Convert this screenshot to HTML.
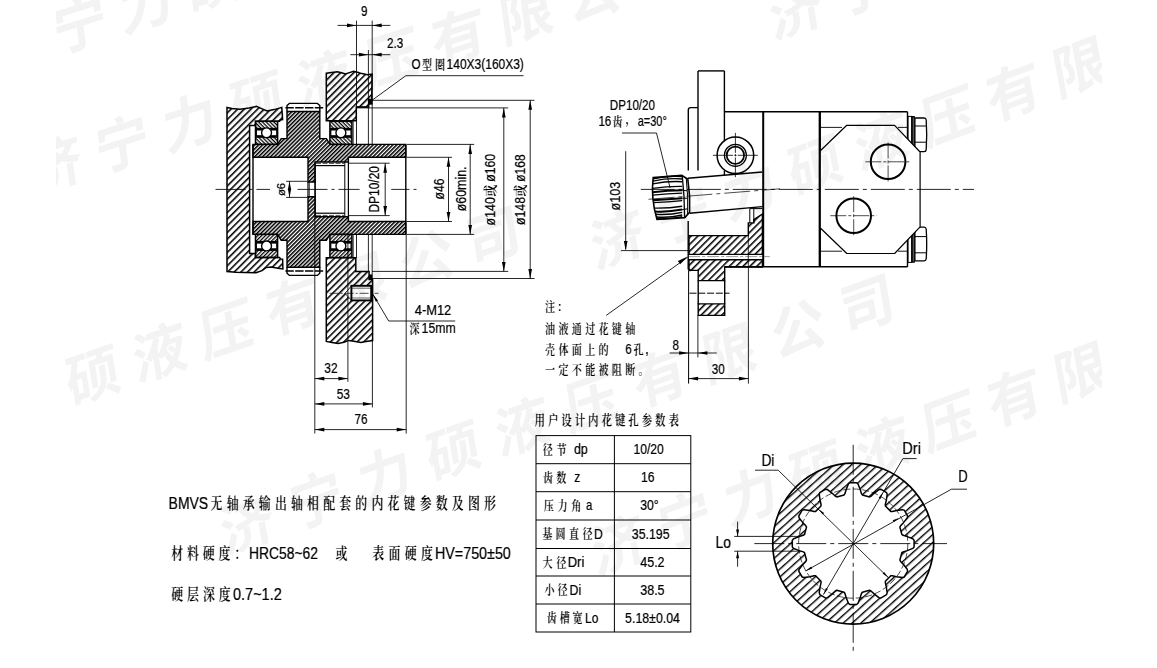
<!DOCTYPE html>
<html lang="zh-CN">
<head>
<meta charset="utf-8">
<title>BMVS无轴承输出轴相配套的内花键参数及图形</title>
<style>
html,body{margin:0;padding:0;background:#fff;}
body{width:1157px;height:668px;overflow:hidden;position:relative;}
svg{position:absolute;left:0;top:0;display:block;filter:grayscale(1);}
text{stroke:none;fill:#000;}
.l{font-family:"Liberation Sans",sans-serif;stroke:#000;stroke-width:.2px;}
.c{font-family:"Liberation Sans","Noto Serif CJK SC",serif;font-weight:600;}
.wm{font-family:"Liberation Sans","Noto Sans CJK SC",sans-serif;font-weight:700;fill:#f3f3f3;}
</style>
</head>
<body>
<svg width="1157" height="668" viewBox="0 0 1157 668" stroke="#000" fill="none">
<defs>
<pattern id="hA" width="4.7" height="4.7" patternUnits="userSpaceOnUse" patternTransform="rotate(-45)"><rect x="0" y="0" width="4.7" height="1.55" fill="#000" stroke="none"/></pattern>
<pattern id="hB" width="2.79" height="2.79" patternUnits="userSpaceOnUse" patternTransform="rotate(-45)"><rect x="0" y="0" width="2.79" height="1.55" fill="#000" stroke="none"/></pattern>
<pattern id="hC" width="2.7" height="2.7" patternUnits="userSpaceOnUse" patternTransform="rotate(45)"><rect x="0" y="0" width="2.7" height="1.25" fill="#000" stroke="none"/></pattern>
<pattern id="hC2" width="2.7" height="2.7" patternUnits="userSpaceOnUse" patternTransform="rotate(-45)"><rect x="0" y="0" width="2.7" height="1.25" fill="#000" stroke="none"/></pattern>
<pattern id="hD" width="5.9" height="5.9" patternUnits="userSpaceOnUse" patternTransform="rotate(-42)"><rect x="0" y="0" width="5.9" height="1.4" fill="#000" stroke="none"/></pattern>
<pattern id="hE" width="4.85" height="4.85" patternUnits="userSpaceOnUse" patternTransform="rotate(-45)"><rect x="0" y="0" width="4.85" height="1.55" fill="#000" stroke="none"/></pattern>
</defs>
<rect x="0" y="0" width="1157" height="668" fill="#fff" stroke="none"/>

<g id="left-assembly">
<path d="M227 107.5 L232 108.6 L240 109.2 L249 108 L256.5 106.4 L261 108.4 L267 111 L274 109.6 L281.8 107.4 L282.6 119.6 L280.4 119.9 L279.6 121.3 L255.5 121.3 L255.5 125.4 L249.6 125.4 L249.6 253.4 L255.5 253.4 L255.5 257.5 L279.6 257.5 L280.4 258.9 L282.6 259.2 L282.9 268.9 L278 268.2 L271 267 L266 267.6 L262 270.6 L256 272.8 L245 272.4 L236 272.2 L227 271.6 Z" fill="url(#hA)" stroke="none"/>
<path d="M227 107.5 L232 108.6 L240 109.2 L249 108 L256.5 106.4 L261 108.4 L267 111 L274 109.6 L281.8 107.4 L282.6 119.6 L280.4 119.9 L279.6 121.3 L255.5 121.3 L255.5 125.4 L249.6 125.4 L249.6 253.4 L255.5 253.4 L255.5 257.5 L279.6 257.5 L280.4 258.9 L282.6 259.2 L282.9 268.9 L278 268.2 L271 267 L266 267.6 L262 270.6 L256 272.8 L245 272.4 L236 272.2 L227 271.6 Z" fill="none" stroke-width="1.5" stroke-linejoin="miter"/>
<path d="M326.3 73.2 L331.5 72.4 L337.4 71.7 L341.5 72.8 L345.4 74 L349.5 72.6 L353.5 71.3 L357.5 72.2 L362 73.6 L367.3 74.7 L372.1 74 L371.8 99.6 L368.7 99.6 L368.7 107.1 L356.3 107.1 L356.3 120.8 L326.3 120.8 Z" fill="url(#hA)" stroke="none"/>
<path d="M326.3 73.2 L331.5 72.4 L337.4 71.7 L341.5 72.8 L345.4 74 L349.5 72.6 L353.5 71.3 L357.5 72.2 L362 73.6 L367.3 74.7 L372.1 74 L371.8 99.6 L368.7 99.6 L368.7 107.1 L356.3 107.1 L356.3 120.8 L326.3 120.8 Z" fill="none" stroke-width="1.5" stroke-linejoin="miter"/>
<rect x="368.7" y="99.8" width="3.5" height="4.6" fill="#000" stroke-width="0.5" />
<path d="M326.3 257.8 L355.8 257.8 L355.8 271.6 L369.1 271.6 L369.1 279.6 L372.6 279.6 L372.6 340.6 L366 341.4 L360.8 342.4 L354 341.2 L348.7 340.4 L344 342.2 L338 343.4 L332 342.4 L326.3 341.4 Z M351.4 285.8 L371.2 285.8 L371.2 300.4 L351.4 300.4 L345 293.3 Z" fill="url(#hA)" fill-rule="evenodd" stroke="none"/>
<path d="M326.3 257.8 L355.8 257.8 L355.8 271.6 L369.1 271.6 L369.1 279.6 L372.6 279.6 L372.6 340.6 L366 341.4 L360.8 342.4 L354 341.2 L348.7 340.4 L344 342.2 L338 343.4 L332 342.4 L326.3 341.4 Z" fill="none" stroke-width="1.5" />
<rect x="369.1" y="274.8" width="3.3" height="4.8" fill="#000" stroke-width="0.5" />
<rect x="351.4" y="285.8" width="19.8" height="14.6" fill="none" stroke-width="1.9" />
<line x1="351.4" y1="288.2" x2="371.2" y2="288.2" stroke-width="0.6" />
<line x1="351.4" y1="298" x2="371.2" y2="298" stroke-width="0.6" />
<path d="M351.4 286 L345 293.3 L351.4 300.2" fill="none" stroke-width="0.8" />
<line x1="329.6" y1="293.3" x2="378.5" y2="293.3" stroke-width="0.7" stroke-dasharray="9 2 2 2"/>
<path d="M253 144.4 L277.6 144.4 L281.2 138.6 L287 138.6 L287 111.5 L319.8 111.5 L319.8 138.6 L326.4 138.6 L329.9 144.4 L405.8 144.4 L405.8 157.3 L348.4 157.3 L348.4 162 L315.1 162 L315.1 182 L308 182 L308 157.3 L253 157.3 Z" fill="url(#hB)" stroke="none"/>
<path d="M253 144.4 L277.6 144.4 L281.2 138.6 L287 138.6 L287 111.5 L319.8 111.5 L319.8 138.6 L326.4 138.6 L329.9 144.4 L405.8 144.4 L405.8 157.3 L348.4 157.3 L348.4 162 L315.1 162 L315.1 182 L308 182 L308 157.3 L253 157.3 Z" fill="none" stroke-width="1.4" stroke-linejoin="miter"/>
<path d="M253 234.4 L277.6 234.4 L281.2 240.2 L287 240.2 L287 267.3 L319.8 267.3 L319.8 240.2 L326.4 240.2 L329.9 234.4 L405.8 234.4 L405.8 221.5 L348.4 221.5 L348.4 216.8 L315.1 216.8 L315.1 196.8 L308 196.8 L308 221.5 L253 221.5 Z" fill="url(#hB)" stroke="none"/>
<path d="M253 234.4 L277.6 234.4 L281.2 240.2 L287 240.2 L287 267.3 L319.8 267.3 L319.8 240.2 L326.4 240.2 L329.9 234.4 L405.8 234.4 L405.8 221.5 L348.4 221.5 L348.4 216.8 L315.1 216.8 L315.1 196.8 L308 196.8 L308 221.5 L253 221.5 Z" fill="none" stroke-width="1.4" stroke-linejoin="miter"/>
<path d="M287 111.5 L287 105.6 L289.4 103.4 L317.4 103.4 L319.8 105.6 L319.8 111.5" fill="none" stroke-width="1.4" />
<line x1="285.4" y1="107.7" x2="324.3" y2="107.7" stroke-width="1.5" stroke-dasharray="8.4 1.4"/>
<line x1="315.1" y1="165.6" x2="344.8" y2="165.6" stroke-width="1.2" />
<line x1="316" y1="163.4" x2="344" y2="163.4" stroke-width="0.7" stroke-dasharray="5 1.5"/>
<path d="M287 267.3 L287 273.2 L289.4 275.4 L317.4 275.4 L319.8 273.2 L319.8 267.3" fill="none" stroke-width="1.4" />
<line x1="285.4" y1="271.1" x2="324.3" y2="271.1" stroke-width="1.5" stroke-dasharray="8.4 1.4"/>
<line x1="315.1" y1="213.2" x2="344.8" y2="213.2" stroke-width="1.2" />
<line x1="316" y1="215.4" x2="344" y2="215.4" stroke-width="0.7" stroke-dasharray="5 1.5"/>
<line x1="253" y1="144.4" x2="253" y2="234.4" stroke-width="1.4" />
<line x1="315.1" y1="162" x2="315.1" y2="216.8" stroke-width="1.2" />
<line x1="344.8" y1="162" x2="344.8" y2="216.8" stroke-width="1.0" />
<line x1="348.4" y1="157.3" x2="348.4" y2="221.5" stroke-width="1.2" />
<line x1="405.8" y1="144.4" x2="405.8" y2="234.4" stroke-width="1.4" />
<line x1="308" y1="182" x2="308" y2="196.8" stroke-width="1.2" />
<line x1="315.1" y1="182" x2="315.1" y2="196.8" stroke-width="1.2" />
<line x1="309.4" y1="182" x2="309.4" y2="196.8" stroke-width="0.7" />
<rect x="255.5" y="121.3" width="22.1" height="7.2" fill="url(#hC)" stroke="none"/>
<rect x="255.5" y="137.2" width="22.1" height="7.2" fill="url(#hC)" stroke="none"/>
<rect x="255.5" y="121.3" width="22.1" height="23.1" fill="none" stroke-width="1.5" />
<line x1="255.5" y1="128.5" x2="277.6" y2="128.5" stroke-width="1.3" />
<line x1="255.5" y1="137.2" x2="277.6" y2="137.2" stroke-width="1.3" />
<rect x="256.3" y="129.65" width="20.5" height="6.4" fill="#fff" stroke-width="1.3" />
<line x1="256.7" y1="129.5" x2="276.4" y2="129.5" stroke-width="1.6" />
<line x1="256.7" y1="136.2" x2="276.4" y2="136.2" stroke-width="1.6" />
<circle cx="266.55" cy="132.85" r="4.95" fill="#fff" stroke-width="1.4" />
<rect x="329.9" y="121.3" width="22" height="7.2" fill="url(#hC)" stroke="none"/>
<rect x="329.9" y="137.2" width="22" height="7.2" fill="url(#hC)" stroke="none"/>
<rect x="329.9" y="121.3" width="22" height="23.1" fill="none" stroke-width="1.5" />
<line x1="329.9" y1="128.5" x2="351.9" y2="128.5" stroke-width="1.3" />
<line x1="329.9" y1="137.2" x2="351.9" y2="137.2" stroke-width="1.3" />
<rect x="330.7" y="129.65" width="20.4" height="6.4" fill="#fff" stroke-width="1.3" />
<line x1="331.1" y1="129.5" x2="350.7" y2="129.5" stroke-width="1.6" />
<line x1="331.1" y1="136.2" x2="350.7" y2="136.2" stroke-width="1.6" />
<circle cx="340.9" cy="132.85" r="4.95" fill="#fff" stroke-width="1.4" />
<rect x="255.5" y="234.4" width="22.1" height="7.2" fill="url(#hC2)" stroke="none"/>
<rect x="255.5" y="250.3" width="22.1" height="7.2" fill="url(#hC2)" stroke="none"/>
<rect x="255.5" y="234.4" width="22.1" height="23.1" fill="none" stroke-width="1.5" />
<line x1="255.5" y1="241.6" x2="277.6" y2="241.6" stroke-width="1.3" />
<line x1="255.5" y1="250.3" x2="277.6" y2="250.3" stroke-width="1.3" />
<rect x="256.3" y="242.75" width="20.5" height="6.4" fill="#fff" stroke-width="1.3" />
<line x1="256.7" y1="242.6" x2="276.4" y2="242.6" stroke-width="1.6" />
<line x1="256.7" y1="249.3" x2="276.4" y2="249.3" stroke-width="1.6" />
<circle cx="266.55" cy="245.95" r="4.95" fill="#fff" stroke-width="1.4" />
<rect x="329.9" y="234.4" width="22" height="7.2" fill="url(#hC2)" stroke="none"/>
<rect x="329.9" y="250.3" width="22" height="7.2" fill="url(#hC2)" stroke="none"/>
<rect x="329.9" y="234.4" width="22" height="23.1" fill="none" stroke-width="1.5" />
<line x1="329.9" y1="241.6" x2="351.9" y2="241.6" stroke-width="1.3" />
<line x1="329.9" y1="250.3" x2="351.9" y2="250.3" stroke-width="1.3" />
<rect x="330.7" y="242.75" width="20.4" height="6.4" fill="#fff" stroke-width="1.3" />
<line x1="331.1" y1="242.6" x2="350.7" y2="242.6" stroke-width="1.6" />
<line x1="331.1" y1="249.3" x2="350.7" y2="249.3" stroke-width="1.6" />
<circle cx="340.9" cy="245.95" r="4.95" fill="#fff" stroke-width="1.4" />
<line x1="353.2" y1="120.8" x2="353.2" y2="144.4" stroke-width="0.8" />
<line x1="353.2" y1="234.4" x2="353.2" y2="258" stroke-width="0.8" />
<line x1="356.5" y1="20.6" x2="356.5" y2="144.4" stroke-width="0.85" />
<line x1="368.4" y1="50" x2="368.4" y2="144.4" stroke-width="0.85" />
<line x1="372.2" y1="20.6" x2="372.2" y2="144.4" stroke-width="0.85" />
<line x1="356.5" y1="234.4" x2="356.5" y2="258" stroke-width="0.85" />
<line x1="368.4" y1="234.4" x2="368.4" y2="271.7" stroke-width="0.85" />
<line x1="372.2" y1="234.4" x2="372.2" y2="274.8" stroke-width="0.85" />
<line x1="356.3" y1="107.1" x2="368.7" y2="107.1" stroke-width="1.0" />
<line x1="215.5" y1="189.4" x2="418.5" y2="189.4" stroke-width="0.85" stroke-dasharray="30 4 3 4"/>
<line x1="337.6" y1="25.4" x2="390.3" y2="25.4" stroke-width="0.85" />
<polygon points="356.5,25.4 347,27.25 347,23.55" fill="#000" stroke="none"/>
<polygon points="372.2,25.4 381.7,23.55 381.7,27.25" fill="#000" stroke="none"/>
<text transform="translate(364.3,15.9) scale(0.82,1)" font-size="14.2" text-anchor="middle" class="l">9</text>
<line x1="350.4" y1="54.7" x2="390.3" y2="54.7" stroke-width="0.85" />
<polygon points="368.4,54.7 358.9,56.55 358.9,52.85" fill="#000" stroke="none"/>
<polygon points="372.2,54.7 381.7,52.85 381.7,56.55" fill="#000" stroke="none"/>
<text transform="translate(395.2,48.2) scale(0.82,1)" font-size="14.2" text-anchor="middle" class="l">2.3</text>
<path d="M372 100.3 L405.8 75.7 L523.5 75.7" fill="none" stroke-width="0.85" />
<text transform="translate(411.4,68.8) scale(0.82,1)" font-size="14.2" text-anchor="start" class="l">O</text>
<text transform="translate(422,68.6) scale(0.77,1)" x="0 16.75" font-size="13.0" class="c">型圈</text>
<text transform="translate(446.6,68.8) scale(0.845,1)" font-size="14.2" text-anchor="start" class="l">140X3(160X3)</text>
<line x1="407" y1="157.3" x2="452" y2="157.3" stroke-width="0.85" />
<line x1="407" y1="221.5" x2="452" y2="221.5" stroke-width="0.85" />
<line x1="448.5" y1="157.3" x2="448.5" y2="221.5" stroke-width="0.85" />
<polygon points="448.5,157.3 450.35,166.8 446.65,166.8" fill="#000" stroke="none"/>
<polygon points="448.5,221.5 446.65,212 450.35,212" fill="#000" stroke="none"/>
<line x1="407" y1="144.4" x2="474.2" y2="144.4" stroke-width="0.85" />
<line x1="407" y1="234.4" x2="474.2" y2="234.4" stroke-width="0.85" />
<line x1="470.2" y1="144.4" x2="470.2" y2="234.4" stroke-width="0.85" />
<polygon points="470.2,144.4 472.05,153.9 468.35,153.9" fill="#000" stroke="none"/>
<polygon points="470.2,234.4 468.35,224.9 472.05,224.9" fill="#000" stroke="none"/>
<line x1="372" y1="107.9" x2="508.2" y2="107.9" stroke-width="0.85" />
<line x1="372" y1="271.4" x2="508.2" y2="271.4" stroke-width="0.85" />
<line x1="503.8" y1="107.9" x2="503.8" y2="271.4" stroke-width="0.85" />
<polygon points="503.8,107.9 505.65,117.4 501.95,117.4" fill="#000" stroke="none"/>
<polygon points="503.8,271.4 501.95,261.9 505.65,261.9" fill="#000" stroke="none"/>
<line x1="372" y1="100.3" x2="534.5" y2="100.3" stroke-width="0.85" />
<line x1="372" y1="278.5" x2="534.5" y2="278.5" stroke-width="0.85" />
<line x1="530.2" y1="100.3" x2="530.2" y2="278.5" stroke-width="0.85" />
<polygon points="530.2,100.3 532.05,109.8 528.35,109.8" fill="#000" stroke="none"/>
<polygon points="530.2,278.5 528.35,269 532.05,269" fill="#000" stroke="none"/>
<line x1="356.6" y1="107.9" x2="372" y2="107.9" stroke-width="0.85" />
<text transform="translate(443.8,188.9) rotate(-90) scale(0.858,1)" font-size="14.2" text-anchor="middle" class="l">ø46</text>
<text transform="translate(466.4,188.9) rotate(-90) scale(0.877,1)" font-size="14.2" text-anchor="middle" class="l">ø60min.</text>
<text transform="translate(495.1,225.4) rotate(-90) scale(0.877,1)" font-size="14.2" text-anchor="start" class="l">ø140</text>
<text transform="translate(495.4,196.8) rotate(-90) scale(0.9,1)" x="0" font-size="13.4" class="c">或</text>
<text transform="translate(495.1,181.8) rotate(-90) scale(0.865,1)" font-size="14.2" text-anchor="start" class="l">ø160</text>
<text transform="translate(524.6,225) rotate(-90) scale(0.865,1)" font-size="14.2" text-anchor="start" class="l">ø148</text>
<text transform="translate(524.9,196.8) rotate(-90) scale(0.9,1)" x="0" font-size="13.4" class="c">或</text>
<text transform="translate(524.6,181.8) rotate(-90) scale(0.847,1)" font-size="14.2" text-anchor="start" class="l">ø168</text>
<rect x="359.6" y="187.4" width="31.6" height="4" fill="#fff" stroke="none"/>
<line x1="348.4" y1="163.2" x2="389.7" y2="163.2" stroke-width="0.85" />
<line x1="348.4" y1="215.6" x2="389.7" y2="215.6" stroke-width="0.85" />
<line x1="385.2" y1="163.2" x2="385.2" y2="215.6" stroke-width="0.85" />
<polygon points="385.2,163.2 387.05,172.7 383.35,172.7" fill="#000" stroke="none"/>
<polygon points="385.2,215.6 383.35,206.1 387.05,206.1" fill="#000" stroke="none"/>
<text transform="translate(379.2,189.3) rotate(-90) scale(0.843,1)" font-size="14.2" text-anchor="middle" class="l">DP10/20</text>
<rect x="270" y="187.4" width="26.8" height="4" fill="#fff" stroke="none"/>
<line x1="286.1" y1="181.3" x2="307.6" y2="181.3" stroke-width="0.85" />
<line x1="286.1" y1="197.4" x2="307.6" y2="197.4" stroke-width="0.85" />
<line x1="289.5" y1="181.3" x2="289.5" y2="197.4" stroke-width="0.85" />
<polygon points="289.5,181.3 291.2,189.9 287.8,189.9" fill="#000" stroke="none"/>
<polygon points="289.5,197.4 287.8,188.8 291.2,188.8" fill="#000" stroke="none"/>
<text transform="translate(285.3,189.5) rotate(-90) scale(0.992,1)" font-size="11.4" text-anchor="middle" class="l">ø6</text>
<line x1="314.8" y1="216.8" x2="314.8" y2="433.6" stroke-width="0.85" />
<line x1="347.9" y1="234.4" x2="347.9" y2="381.8" stroke-width="0.85" />
<line x1="372.4" y1="341" x2="372.4" y2="407.4" stroke-width="0.85" />
<line x1="406.2" y1="234.4" x2="406.2" y2="433.6" stroke-width="0.85" />
<line x1="314.8" y1="378.6" x2="347.9" y2="378.6" stroke-width="0.85" />
<polygon points="314.8,378.6 324.3,376.75 324.3,380.45" fill="#000" stroke="none"/>
<polygon points="347.9,378.6 338.4,380.45 338.4,376.75" fill="#000" stroke="none"/>
<line x1="314.8" y1="403.9" x2="372.4" y2="403.9" stroke-width="0.85" />
<polygon points="314.8,403.9 324.3,402.05 324.3,405.75" fill="#000" stroke="none"/>
<polygon points="372.4,403.9 362.9,405.75 362.9,402.05" fill="#000" stroke="none"/>
<line x1="314.8" y1="429.6" x2="406.2" y2="429.6" stroke-width="0.85" />
<polygon points="314.8,429.6 324.3,427.75 324.3,431.45" fill="#000" stroke="none"/>
<polygon points="406.2,429.6 396.7,431.45 396.7,427.75" fill="#000" stroke="none"/>
<text transform="translate(330.9,373.3) scale(0.836,1)" font-size="14.2" text-anchor="middle" class="l">32</text>
<text transform="translate(343.3,398.6) scale(0.836,1)" font-size="14.2" text-anchor="middle" class="l">53</text>
<text transform="translate(360.9,424.3) scale(0.823,1)" font-size="14.2" text-anchor="middle" class="l">76</text>
<path d="M372.6 293.8 L388.7 321 L455.2 321" fill="none" stroke-width="0.85" />
<polygon points="372.6,293.8 378.05,300.45 375.81,301.78" fill="#000" stroke="none"/>
<text transform="translate(433,315.4) scale(0.909,1)" font-size="14.2" text-anchor="middle" class="l">4-M12</text>
<text transform="translate(409.6,333) scale(0.77,1)" x="0" font-size="13.0" class="c">深</text>
<text transform="translate(421.6,333.4) scale(0.862,1)" font-size="14.2" text-anchor="start" class="l">15mm</text>
</g>
<g id="motor">
<path d="M689 235.6 L748.3 235.6 L748.3 222.9 L753.8 222.9 L753.8 219.6 L762.4 214 L762.4 254.4 L689 254.4 Z" fill="url(#hE)" stroke="none"/>
<path d="M689 235.6 L748.3 235.6 L748.3 222.9 L753.8 222.9 L753.8 219.6 L762.4 214 L762.4 254.4 L689 254.4 Z" fill="none" stroke-width="1.4" stroke-linejoin="miter"/>
<path d="M689 259.7 L762.4 259.7 L762.4 267 L724.7 267 L724.7 280.6 L698.2 280.6 L698.2 270.4 L690.6 270.4 L689 268.6 Z" fill="url(#hE)" stroke="none"/>
<path d="M689 259.7 L762.4 259.7 L762.4 267 L724.7 267 L724.7 280.6 L698.2 280.6 L698.2 270.4 L690.6 270.4 L689 268.6 Z" fill="none" stroke-width="1.4" stroke-linejoin="miter"/>
<path d="M698.2 303.9 L724.7 303.9 L724.7 315.4 L698.2 315.4 Z" fill="url(#hE)" stroke="none"/>
<path d="M698.2 303.9 L724.7 303.9 L724.7 315.4 L698.2 315.4 Z" fill="none" stroke-width="1.4" stroke-linejoin="miter"/>
<line x1="698.2" y1="280.6" x2="698.2" y2="303.9" stroke-width="1.4" />
<line x1="724.7" y1="280.6" x2="724.7" y2="303.9" stroke-width="1.4" />
<line x1="689.5" y1="293.2" x2="729.5" y2="293.2" stroke-width="1.0" stroke-dasharray="7 1.8"/>
<line x1="688.2" y1="256.6" x2="769.8" y2="256.6" stroke-width="0.6" stroke-dasharray="12 2 3 2" stroke="#555"/>
<line x1="748.3" y1="235.6" x2="748.3" y2="267" stroke-width="0.8" />
<line x1="749.8" y1="208.6" x2="762.4" y2="208.6" stroke-width="1.0" />
<line x1="749.8" y1="208.6" x2="749.8" y2="222.9" stroke-width="1.0" />
<line x1="753.8" y1="208.6" x2="753.8" y2="222.9" stroke-width="1.0" />
<path d="M688.2 220.9 L688.2 268.4 Q688.4 270.6 690.8 270.6" fill="none" stroke-width="1.4" />
<path d="M688.3 170.4 L688.3 110 Q688.3 107.6 690.6 107.6 L698 107.6" fill="none" stroke-width="1.4" />
<line x1="698" y1="70.9" x2="698" y2="170.4" stroke-width="1.4" />
<line x1="698" y1="70.9" x2="724.4" y2="70.9" stroke-width="1.4" />
<line x1="724.4" y1="70.9" x2="724.4" y2="141.4" stroke-width="1.4" />
<line x1="724.4" y1="170.6" x2="724.4" y2="175.2" stroke-width="1.4" />
<line x1="724.4" y1="111.8" x2="907.5" y2="111.8" stroke-width="1.4" />
<line x1="763.2" y1="111.8" x2="763.2" y2="266.8" stroke-width="2.0" />
<line x1="724.7" y1="266.8" x2="907.5" y2="266.8" stroke-width="1.4" />
<circle cx="735.4" cy="155.3" r="18.3" fill="none" stroke-width="1.5" />
<circle cx="735.4" cy="155.3" r="11" fill="none" stroke-width="1.2" />
<circle cx="735.4" cy="155.3" r="8.7" fill="none" stroke-width="1.7" />
<line x1="712.9" y1="155.3" x2="757.8" y2="155.3" stroke-width="0.8" stroke-dasharray="20.2 1.2 2.2 1.2 20.1"/>
<line x1="735.4" y1="132.9" x2="735.4" y2="177.2" stroke-width="0.8" stroke-dasharray="20 1.2 2.2 1.2 19.7"/>
<line x1="687.8" y1="178.3" x2="762.4" y2="172" stroke-width="1.4" />
<line x1="689.6" y1="213.3" x2="762.4" y2="206.6" stroke-width="1.4" />
<path d="M653.2 177.6 L681.8 175.4 L687.8 179.2 Q690.4 196 689.6 212.2 L684.8 217.6 L657 219.4 Q650.6 198 653.2 177.6 Z" fill="#fff" stroke-width="1.6" />
<g fill="none">
<path d="M653.1 178.85 Q668 175.17 682.2 176.67" stroke-width="1.4"/>
<path d="M652.92 181.15 Q668 177.79 682.2 178.99" stroke-width="1.3"/>
<path d="M652.73 183.87 Q668 180.88 682.2 181.73" stroke-width="1.4"/>
<path d="M652.51 188.47 Q668 186.1 682.2 186.37" stroke-width="1.3"/>
<path d="M652.48 192.23 Q668 190.38 682.2 190.17" stroke-width="2.0"/>
<path d="M682.2 190.17 L687.2 190.82" stroke-width="1.0"/>
<path d="M652.57 195.16 Q668 193.7 682.2 193.12" stroke-width="1.2"/>
<path d="M652.97 200.17 Q668 199.4 682.2 198.19" stroke-width="2.1"/>
<path d="M682.2 198.19 L687.2 198.27" stroke-width="1.0"/>
<path d="M653.29 202.68 Q668 202.25 682.2 200.72" stroke-width="1.2"/>
<path d="M654.25 208.11 Q668 208.42 682.2 206.21" stroke-width="1.4"/>
<path d="M654.99 211.46 Q668 212.22 682.2 209.58" stroke-width="2.0"/>
<path d="M682.2 209.58 L687.2 208.85" stroke-width="1.0"/>
<path d="M655.64 214.18 Q668 215.31 682.2 212.32" stroke-width="1.4"/>
<path d="M656.34 216.89 Q668 218.4 682.2 215.07" stroke-width="1.5"/>
<path d="M656.72 218.36 Q668 220.06 682.2 216.54" stroke-width="1.2"/>
</g>
<path d="M682.2 175.4 Q684.6 196 684.6 217.6" fill="none" stroke-width="1.3" />
<path d="M686.2 177.8 Q688.4 196 687.6 214.6" fill="none" stroke-width="1.0" />
<line x1="648.5" y1="199.3" x2="780" y2="188.8" stroke-width="0.7" stroke-dasharray="26 4 4 4"/>
<line x1="819.8" y1="111.8" x2="819.8" y2="266.8" stroke-width="2.0" />
<line x1="907.5" y1="111.8" x2="907.5" y2="266.8" stroke-width="1.4" />
<line x1="819.8" y1="127.4" x2="842" y2="127.4" stroke-width="0.9" />
<line x1="898" y1="127.4" x2="907.5" y2="127.4" stroke-width="0.9" />
<line x1="819.8" y1="251.2" x2="842" y2="251.2" stroke-width="0.9" />
<line x1="898" y1="251.2" x2="907.5" y2="251.2" stroke-width="0.9" />
<rect x="908" y="116.4" width="3.6" height="35.2" fill="none" stroke-width="1.0" />
<rect x="912.2" y="116.7" width="2" height="34.9" fill="#999" stroke-width="1.3" />
<path d="M914.9 118 L924.2 118 Q926.0 118 926.2 120 Q927.2 134.8 926.2 149.6 Q926.0 151.6 924.2 151.6 L914.9 151.6 Z" fill="#fff" stroke-width="1.3" />
<line x1="914.9" y1="126" x2="926.4" y2="126" stroke-width="1.0" />
<line x1="914.9" y1="142.2" x2="926.4" y2="142.2" stroke-width="1.0" />
<rect x="908" y="227.2" width="3.6" height="35.2" fill="none" stroke-width="1.0" />
<rect x="912.2" y="227.2" width="2" height="34.9" fill="#999" stroke-width="1.3" />
<path d="M914.9 227.2 L924.2 227.2 Q926.0 227.2 926.2 229.2 Q927.2 244 926.2 258.8 Q926.0 260.8 924.2 260.8 L914.9 260.8 Z" fill="#fff" stroke-width="1.3" />
<line x1="914.9" y1="252.8" x2="926.4" y2="252.8" stroke-width="1.0" />
<line x1="914.9" y1="236.6" x2="926.4" y2="236.6" stroke-width="1.0" />
<path d="M846.8 125.3 L894.6 125.3 L920.1 152 L920.1 226.8 L894.6 253.5 L846.8 253.5 L819.8 227.5 L819.8 151.3 Z" fill="#fff" stroke-width="1.2" stroke-linejoin="round"/>
<line x1="819.8" y1="111.8" x2="819.8" y2="266.8" stroke-width="2.0" />
<circle cx="888.1" cy="161.8" r="17.3" fill="none" stroke-width="2.0" />
<circle cx="853.7" cy="215.7" r="17.3" fill="none" stroke-width="2.0" />
<line x1="865.3" y1="161.8" x2="911.1" y2="161.8" stroke-width="0.7" stroke-dasharray="16 2 3 2"/>
<line x1="888.1" y1="142.4" x2="888.1" y2="182.8" stroke-width="0.7" stroke-dasharray="16 2 3 2"/>
<line x1="830.3" y1="215.7" x2="876.7" y2="215.7" stroke-width="0.7" stroke-dasharray="16 2 3 2"/>
<line x1="853.7" y1="196.2" x2="853.7" y2="236.6" stroke-width="0.7" stroke-dasharray="16 2 3 2"/>
<line x1="640.8" y1="189.4" x2="974" y2="189.4" stroke-width="0.85" stroke-dasharray="34 4 4 4"/>
<text transform="translate(632.4,110.1) scale(0.82,1)" font-size="14.2" text-anchor="middle" class="l">DP10/20</text>
<text transform="translate(598.4,125.5) scale(0.82,1)" font-size="14.2" text-anchor="start" class="l">16</text>
<text transform="translate(612.6,125.5) scale(0.77,1)" x="0" font-size="13.0" class="c">齿</text>
<text transform="translate(625.6,122.8) scale(0.77,1)" x="0" font-size="13.0" class="c">，</text>
<text transform="translate(637.8,125.5) scale(0.77,1)" font-size="14.2" text-anchor="start" class="l">a=30°</text>
<path d="M621.9 133 L656.5 133 L670.1 187.9" fill="none" stroke-width="0.85" />
<line x1="625.7" y1="151.2" x2="625.7" y2="249.4" stroke-width="0.85" />
<polygon points="625.7,250.4 623.85,240.9 627.55,240.9" fill="#000" stroke="none"/>
<line x1="620.9" y1="250.6" x2="688" y2="250.6" stroke-width="0.85" />
<text transform="translate(619.7,196.1) rotate(-90) scale(0.89,1)" font-size="14.2" text-anchor="middle" class="l">ø103</text>
<line x1="606.2" y1="315.4" x2="687.6" y2="257.3" stroke-width="0.85" />
<polygon points="687.6,256.6 680.21,264.33 677.89,261.07" fill="#000" stroke="none"/>
<line x1="688.6" y1="270.6" x2="688.6" y2="383.6" stroke-width="1.0" />
<line x1="697.9" y1="315.4" x2="697.9" y2="357.4" stroke-width="0.85" />
<line x1="748.4" y1="267" x2="748.4" y2="383.6" stroke-width="0.85" />
<line x1="669.6" y1="353" x2="716.8" y2="353" stroke-width="0.85" />
<polygon points="688.6,353 679.1,354.85 679.1,351.15" fill="#000" stroke="none"/>
<polygon points="697.9,353 707.4,351.15 707.4,354.85" fill="#000" stroke="none"/>
<text transform="translate(675.8,349.6) scale(0.82,1)" font-size="14.2" text-anchor="middle" class="l">8</text>
<line x1="688.6" y1="378.6" x2="748.4" y2="378.6" stroke-width="0.85" />
<polygon points="688.6,378.6 698.1,376.75 698.1,380.45" fill="#000" stroke="none"/>
<polygon points="748.4,378.6 738.9,380.45 738.9,376.75" fill="#000" stroke="none"/>
<text transform="translate(718.2,373.8) scale(0.82,1)" font-size="14.2" text-anchor="middle" class="l">30</text>
</g>
<g id="notes">
<text transform="translate(545.1,311.1) scale(0.77,1)" x="0 16.88" font-size="13.0" class="c">注:</text>
<text transform="translate(545.1,333.1) scale(0.77,1)" x="0 17.34 34.68 52.01 69.35 86.69 104.03" font-size="13.0" class="c">油液通过花键轴</text>
<text transform="translate(545.1,353.7) scale(0.77,1)" x="0 17.34 34.68 52.01 69.35" font-size="13.0" class="c">壳体面上的</text>
<text transform="translate(625.2,353.7) scale(0.82,1)" font-size="14.2" text-anchor="start" class="l">6</text>
<text transform="translate(633.4,353.7) scale(0.77,1)" x="0 15.58" font-size="13.0" class="c">孔,</text>
<text transform="translate(545.1,373.8) scale(0.77,1)" x="0 17.34 34.68 52.01 69.35 86.69 104.03 121.36" font-size="13.0" class="c">一定不能被阻断。</text>
<text transform="translate(534.6,425) scale(0.76,1)" x="0 17.61 35.21 52.82 70.42 88.03 105.63 123.24 140.84 158.45 176.05" font-size="13.7" class="c">用户设计内花键孔参数表</text>
</g>
<g id="table">
<rect x="536" y="435.6" width="154.8" height="196.4" fill="none" stroke-width="1.0" />
<line x1="536" y1="463.7" x2="690.8" y2="463.7" stroke-width="1.0" />
<line x1="536" y1="491.7" x2="690.8" y2="491.7" stroke-width="1.0" />
<line x1="536" y1="520" x2="690.8" y2="520" stroke-width="1.0" />
<line x1="536" y1="548.5" x2="690.8" y2="548.5" stroke-width="1.0" />
<line x1="536" y1="576" x2="690.8" y2="576" stroke-width="1.0" />
<line x1="536" y1="604" x2="690.8" y2="604" stroke-width="1.0" />
<line x1="614.4" y1="435.6" x2="614.4" y2="632" stroke-width="1.0" />
<text transform="translate(542.7,454) scale(0.77,1)" x="0 17.79" font-size="13.0" class="c">径节</text>
<text transform="translate(573.9,454.3) scale(0.88,1)" font-size="14.2" text-anchor="start" class="l">dp</text>
<text transform="translate(633.5,454.3) scale(0.855,1)" font-size="14.2" text-anchor="start" class="l">10/20</text>
<text transform="translate(543,482.1) scale(0.77,1)" x="0 17.27" font-size="13.0" class="c">齿数</text>
<text transform="translate(574.2,482.4) scale(0.845,1)" font-size="14.2" text-anchor="start" class="l">z</text>
<text transform="translate(641.1,482.4) scale(0.855,1)" font-size="14.2" text-anchor="start" class="l">16</text>
<text transform="translate(543.7,510.1) scale(0.77,1)" x="0 17.92 35.84" font-size="13.0" class="c">压力角</text>
<text transform="translate(585.9,510.4) scale(0.798,1)" font-size="14.2" text-anchor="start" class="l">a</text>
<text transform="translate(640.2,510.4) scale(0.862,1)" font-size="14.2" text-anchor="start" class="l">30°</text>
<text transform="translate(542.2,538.4) scale(0.77,1)" x="0 17.4 34.81 52.21" font-size="13.0" class="c">基圆直径</text>
<text transform="translate(593.9,538.7) scale(0.858,1)" font-size="14.2" text-anchor="start" class="l">D</text>
<text transform="translate(631.8,538.7) scale(0.87,1)" font-size="14.2" text-anchor="start" class="l">35.195</text>
<text transform="translate(542.6,566.9) scale(0.77,1)" x="0 17.79" font-size="13.0" class="c">大径</text>
<text transform="translate(567.7,567.2) scale(0.915,1)" font-size="14.2" text-anchor="start" class="l">Dri</text>
<text transform="translate(640.2,567.2) scale(0.883,1)" font-size="14.2" text-anchor="start" class="l">45.2</text>
<text transform="translate(544.5,594.4) scale(0.77,1)" x="0 17.01" font-size="13.0" class="c">小径</text>
<text transform="translate(569.6,594.7) scale(0.865,1)" font-size="14.2" text-anchor="start" class="l">Di</text>
<text transform="translate(640.2,594.7) scale(0.883,1)" font-size="14.2" text-anchor="start" class="l">38.5</text>
<text transform="translate(546.7,622.4) scale(0.77,1)" x="0 16.82 33.64" font-size="13.0" class="c">齿槽宽</text>
<text transform="translate(585.1,622.7) scale(0.842,1)" font-size="14.2" text-anchor="start" class="l">Lo</text>
<text transform="translate(625.1,622.7) scale(0.869,1)" font-size="14.2" text-anchor="start" class="l">5.18±0.04</text>
</g>
<g id="spline-section">
<path d="M772.7 543.6 A80.5 80.5 0 1 0 933.7 543.6 A80.5 80.5 0 1 0 772.7 543.6 Z M901.86 534.49 L903.12 535.34 L907.25 536.58 L912.81 538.8 L914.1 540.19 L914.1 547.01 L912.81 548.4 L907.25 550.62 L903.12 551.86 L901.86 552.71 L899.89 560.04 L900.56 561.4 L903.51 564.54 L907.22 569.25 L907.65 571.1 L904.24 577 L902.42 577.56 L896.5 576.7 L892.3 575.72 L890.78 575.81 L885.41 581.18 L885.32 582.7 L886.3 586.9 L887.16 592.82 L886.6 594.64 L880.7 598.05 L878.85 597.62 L874.14 593.91 L871 590.96 L869.64 590.29 L862.31 592.26 L861.46 593.52 L860.22 597.65 L858 603.21 L856.61 604.5 L849.79 604.5 L848.4 603.21 L846.18 597.65 L844.94 593.52 L844.09 592.26 L836.76 590.29 L835.4 590.96 L832.26 593.91 L827.55 597.62 L825.7 598.05 L819.8 594.64 L819.24 592.82 L820.1 586.9 L821.08 582.7 L820.99 581.18 L815.62 575.81 L814.1 575.72 L809.9 576.7 L803.98 577.56 L802.16 577 L798.75 571.1 L799.18 569.25 L802.89 564.54 L805.84 561.4 L806.51 560.04 L804.54 552.71 L803.28 551.86 L799.15 550.62 L793.59 548.4 L792.3 547.01 L792.3 540.19 L793.59 538.8 L799.15 536.58 L803.28 535.34 L804.54 534.49 L806.51 527.16 L805.84 525.8 L802.89 522.66 L799.18 517.95 L798.75 516.1 L802.16 510.2 L803.98 509.64 L809.9 510.5 L814.1 511.48 L815.62 511.39 L820.99 506.02 L821.08 504.5 L820.1 500.3 L819.24 494.38 L819.8 492.56 L825.7 489.15 L827.55 489.58 L832.26 493.29 L835.4 496.24 L836.76 496.91 L844.09 494.94 L844.94 493.68 L846.18 489.55 L848.4 483.99 L849.79 482.7 L856.61 482.7 L858 483.99 L860.22 489.55 L861.46 493.68 L862.31 494.94 L869.64 496.91 L871 496.24 L874.14 493.29 L878.85 489.58 L880.7 489.15 L886.6 492.56 L887.16 494.38 L886.3 500.3 L885.32 504.5 L885.41 506.02 L890.78 511.39 L892.3 511.48 L896.5 510.5 L902.42 509.64 L904.24 510.2 L907.65 516.1 L907.22 517.95 L903.51 522.66 L900.56 525.8 L899.89 527.16 Z" fill="url(#hD)" fill-rule="evenodd" stroke="none"/>
<circle cx="853.2" cy="543.6" r="80.5" fill="none" stroke-width="1.7" />
<path d="M901.86 534.49 L903.12 535.34 L907.25 536.58 L912.81 538.8 L914.1 540.19 L914.1 547.01 L912.81 548.4 L907.25 550.62 L903.12 551.86 L901.86 552.71 L899.89 560.04 L900.56 561.4 L903.51 564.54 L907.22 569.25 L907.65 571.1 L904.24 577 L902.42 577.56 L896.5 576.7 L892.3 575.72 L890.78 575.81 L885.41 581.18 L885.32 582.7 L886.3 586.9 L887.16 592.82 L886.6 594.64 L880.7 598.05 L878.85 597.62 L874.14 593.91 L871 590.96 L869.64 590.29 L862.31 592.26 L861.46 593.52 L860.22 597.65 L858 603.21 L856.61 604.5 L849.79 604.5 L848.4 603.21 L846.18 597.65 L844.94 593.52 L844.09 592.26 L836.76 590.29 L835.4 590.96 L832.26 593.91 L827.55 597.62 L825.7 598.05 L819.8 594.64 L819.24 592.82 L820.1 586.9 L821.08 582.7 L820.99 581.18 L815.62 575.81 L814.1 575.72 L809.9 576.7 L803.98 577.56 L802.16 577 L798.75 571.1 L799.18 569.25 L802.89 564.54 L805.84 561.4 L806.51 560.04 L804.54 552.71 L803.28 551.86 L799.15 550.62 L793.59 548.4 L792.3 547.01 L792.3 540.19 L793.59 538.8 L799.15 536.58 L803.28 535.34 L804.54 534.49 L806.51 527.16 L805.84 525.8 L802.89 522.66 L799.18 517.95 L798.75 516.1 L802.16 510.2 L803.98 509.64 L809.9 510.5 L814.1 511.48 L815.62 511.39 L820.99 506.02 L821.08 504.5 L820.1 500.3 L819.24 494.38 L819.8 492.56 L825.7 489.15 L827.55 489.58 L832.26 493.29 L835.4 496.24 L836.76 496.91 L844.09 494.94 L844.94 493.68 L846.18 489.55 L848.4 483.99 L849.79 482.7 L856.61 482.7 L858 483.99 L860.22 489.55 L861.46 493.68 L862.31 494.94 L869.64 496.91 L871 496.24 L874.14 493.29 L878.85 489.58 L880.7 489.15 L886.6 492.56 L887.16 494.38 L886.3 500.3 L885.32 504.5 L885.41 506.02 L890.78 511.39 L892.3 511.48 L896.5 510.5 L902.42 509.64 L904.24 510.2 L907.65 516.1 L907.22 517.95 L903.51 522.66 L900.56 525.8 L899.89 527.16 Z" fill="none" stroke-width="1.5" stroke-linejoin="round"/>
<circle cx="853.2" cy="543.6" r="54.6" fill="none" stroke-width="0.7" stroke-dasharray="7 2.5"/>
<line x1="754.3" y1="543.6" x2="947" y2="543.6" stroke-width="0.85" stroke-dasharray="30 4 4 4"/>
<line x1="853.2" y1="444.8" x2="853.2" y2="652" stroke-width="0.85" stroke-dasharray="30 4 4 4"/>
<path d="M755 470.2 L778.2 470.2 L888.3 577.6" fill="none" stroke-width="0.85" />
<polygon points="818.4,508.9 824.16,513.02 822.62,514.59" fill="#000" stroke="none"/>
<polygon points="888.3,577.6 882.54,573.48 884.08,571.91" fill="#000" stroke="none"/>
<text transform="translate(761.4,465.9) scale(0.839,1)" font-size="16.4" text-anchor="start" class="l">Di</text>
<path d="M916.6 458.6 L902.9 458.6 L823.4 594.6" fill="none" stroke-width="0.85" />
<polygon points="883.1,492.3 880.52,498.9 878.62,497.79" fill="#000" stroke="none"/>
<polygon points="823.4,594.6 825.98,588 827.88,589.11" fill="#000" stroke="none"/>
<text transform="translate(902.3,454.4) scale(0.888,1)" font-size="16.4" text-anchor="start" class="l">Dri</text>
<path d="M967 489.2 L951.4 489.2 L805.6 571" fill="none" stroke-width="0.85" />
<polygon points="899.4,517.7 893.83,522.08 892.75,520.15" fill="#000" stroke="none"/>
<polygon points="805.6,571 811.17,566.62 812.25,568.55" fill="#000" stroke="none"/>
<text transform="translate(958.2,481.8) scale(0.794,1)" font-size="16.4" text-anchor="start" class="l">D</text>
<line x1="734.2" y1="536.4" x2="799.4" y2="536.4" stroke-width="0.85" />
<line x1="734.2" y1="551.2" x2="799.4" y2="551.2" stroke-width="0.85" />
<line x1="737.6" y1="521.6" x2="737.6" y2="536.4" stroke-width="0.85" />
<line x1="737.6" y1="551.2" x2="737.6" y2="566.7" stroke-width="0.85" />
<polygon points="737.6,536.4 736.1,529.4 739.1,529.4" fill="#000" stroke="none"/>
<polygon points="737.6,551.2 739.1,558.2 736.1,558.2" fill="#000" stroke="none"/>
<text transform="translate(715.6,547.6) scale(0.844,1)" font-size="16.4" text-anchor="start" class="l">Lo</text>
</g>
<g id="caption">
<text transform="translate(168.6,509.2) scale(0.852,1)" font-size="16.4" text-anchor="start" class="l">BMVS</text>
<text transform="translate(210.6,509.4) scale(0.76,1)" x="0 21.16 42.32 63.47 84.63 105.79 126.95 148.11 169.26 190.42 211.58 232.74 253.89 275.05 296.21 317.37 338.53 359.68" font-size="15.6" class="c">无轴承输出轴相配套的内花键参数及图形</text>
<text transform="translate(171.3,558.6) scale(0.76,1)" x="0 20.72 41.45 62.17 82.89" font-size="15.6" class="c">材料硬度：</text>
<text transform="translate(249,558.6) scale(0.846,1)" font-size="16.4" text-anchor="start" class="l">HRC58~62</text>
<text transform="translate(335.4,558.6) scale(0.76,1)" x="0" font-size="15.6" class="c">或</text>
<text transform="translate(372.2,558.6) scale(0.76,1)" x="0 21.45 42.89 64.34" font-size="15.6" class="c">表面硬度</text>
<text transform="translate(435,558.6) scale(0.872,1)" font-size="16.4" text-anchor="start" class="l">HV=750±50</text>
<text transform="translate(171.3,599.8) scale(0.76,1)" x="0 20.79 41.58 62.37" font-size="15.6" class="c">硬层深度</text>
<text transform="translate(233,599.8) scale(0.884,1)" font-size="16.4" text-anchor="start" class="l">0.7~1.2</text>
</g>
<clipPath id="wmclip"><rect x="56" y="0" width="1046" height="668"/></clipPath>
<g id="watermark" clip-path="url(#wmclip)" style="mix-blend-mode:multiply">
<text transform="translate(14,46) rotate(-17.65) skewX(-10)" x="-28 41.26 110.52 179.78" y="20.16" font-size="56" class="wm">济宁力硕</text>
<text transform="translate(55,165.8) rotate(-17.72) skewX(-10)" x="-28 42.65 113.3 183.95 254.6 325.25 395.9 466.56 537.21 607.86" y="20.16" font-size="56" class="wm">济宁力硕液压有限公司</text>
<text transform="translate(-107,446) rotate(-19.26) skewX(-10)" x="183.96 254.61 325.26 395.92 466.57 537.22 607.87" y="20.16" font-size="56" class="wm">硕液压有限公司</text>
<text transform="translate(247,525) rotate(-19.57) skewX(-10)" x="-28 45.13 118.25 191.38 264.51 337.63 410.76 483.88 557.01 630.14" y="20.16" font-size="56" class="wm">济宁力硕液压有限公司</text>
<text transform="translate(617.5,239.5) rotate(-20.44) skewX(-10)" x="-28 42.44 112.87 183.31 253.74 324.18 394.61 465.05" y="20.16" font-size="56" class="wm">济宁力硕液压有限</text>
<text transform="translate(618.7,545.4) rotate(-20.52) skewX(-10)" x="-28 42.47 112.94 183.41 253.88 324.35 394.82 465.29" y="20.16" font-size="56" class="wm">济宁力硕液压有限</text>
<text transform="translate(796,10) rotate(-19.21) skewX(-10)" x="-28 41.89" y="20.16" font-size="56" class="wm">济宁</text>
</g>
</svg>
</body>
</html>
